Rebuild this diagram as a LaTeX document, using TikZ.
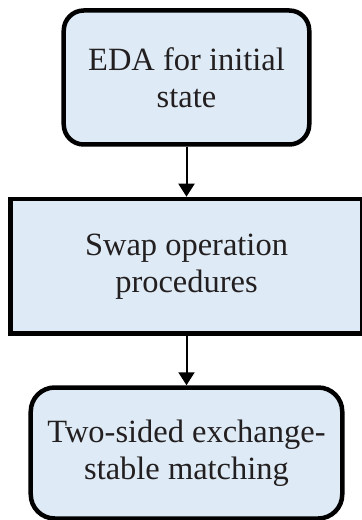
\documentclass[tikz,border=0pt]{standalone}
\usepackage{fontspec}
\setmainfont{Liberation Serif}
\usetikzlibrary{arrows.meta}
\definecolor{boxblue}{RGB}{222,235,246}
\definecolor{textgray}{RGB}{35,31,32}

\begin{document}
\begin{tikzpicture}[x=1bp,y=-1bp,
 stage/.style={draw,line width=4.5bp,fill=boxblue,align=center,text=textgray,
  font=\fontsize{32.6pt}{37.1pt}\selectfont},
 link/.style={-{Triangle[width=16bp,length=13bp]},line width=2bp}]
\useasboundingbox (0,0) rectangle (361,520);
\node[stage,rounded corners=20bp,minimum width=245.5bp,minimum height=134bp] (eda) at (186.5,77.5) {EDA for initial\\state};
\node[stage,minimum width=352bp,minimum height=134.7bp] (swap) at (186.5,266.3) {Swap operation\\procedures};
\node[stage,rounded corners=24bp,minimum width=311.5bp,minimum height=131bp] (match) at (186.5,453) {Two-sided exchange-\\stable matching};
\draw[link] (eda.south) -- (swap.north);
\draw[link] (swap.south) -- (match.north);
\end{tikzpicture}
\end{document}
